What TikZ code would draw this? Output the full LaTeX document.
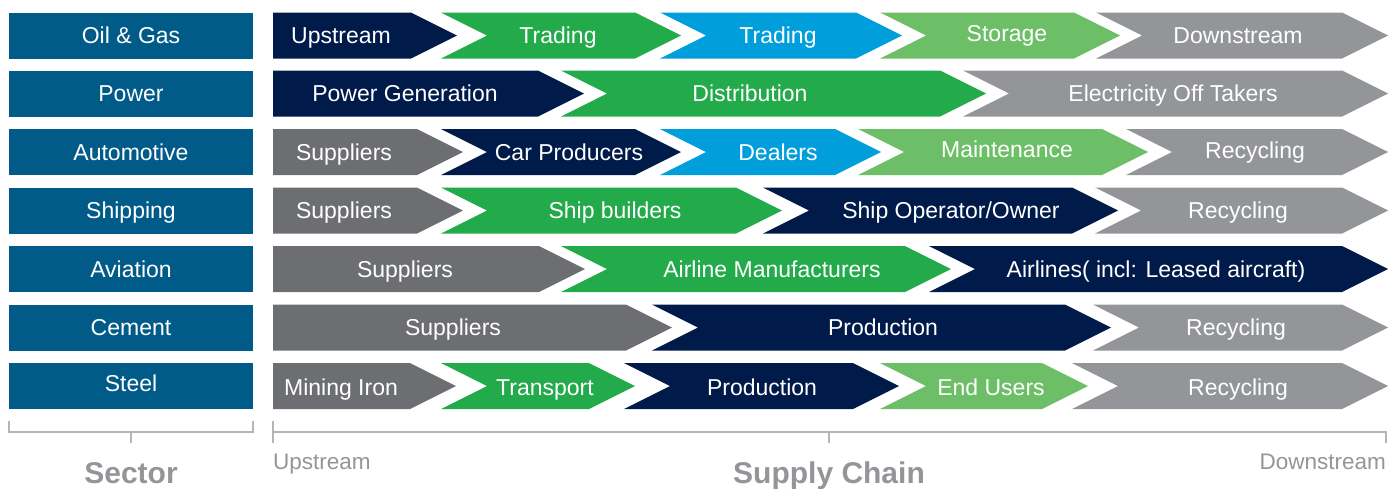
\documentclass[tikz,border=0pt]{standalone}
\usepackage{fontspec}
\setmainfont{Liberation Sans}
\definecolor{sectorc}{HTML}{005B88}
\definecolor{navyc}{HTML}{001B4A}
\definecolor{greenc}{HTML}{23AA4A}
\definecolor{bluec}{HTML}{009FDB}
\definecolor{lgreenc}{HTML}{6DBF67}
\definecolor{dgrayc}{HTML}{6D6E71}
\definecolor{lgrayc}{HTML}{939598}
\definecolor{brc}{HTML}{B5B5B5}
\definecolor{labc}{HTML}{939598}
\tikzset{
  lbl/.style={text=white,inner sep=0pt,text height=16.5pt,text depth=0pt,anchor=center,font=\fontsize{23}{23}\selectfont},
  sectorbox/.style={fill=sectorc,text=white,inner sep=0pt,minimum width=244pt,minimum height=46pt,text height=16.5pt,text depth=0pt,font=\fontsize{23}{23}\selectfont},
  brline/.style={draw=brc,line width=1.1pt},
  biglab/.style={text=labc,inner sep=0pt,anchor=base,font=\bfseries\fontsize{30}{30}\selectfont},
  smalllab/.style={text=labc,inner sep=0pt,font=\fontsize{22.5}{22.5}\selectfont}
}
% name, top, L, R, colour, text x, text, text dy
\newcommand{\chevfirst}[8]{%
  \fill[#5] (#3,#2) -- (#4,#2) -- ({#4+46},{#2+23}) -- (#4,{#2+46}) -- (#3,{#2+46}) -- cycle;
  \node[lbl] (#1) at (#6,{#2+23+#8}) {#7};}
\newcommand{\chevnext}[8]{%
  \fill[#5] (#3,#2) -- (#4,#2) -- ({#4+46},{#2+23}) -- (#4,{#2+46}) -- (#3,{#2+46}) -- ({#3+46},{#2+23}) -- cycle;
  \node[lbl] (#1) at (#6,{#2+23+#8}) {#7};}
\begin{document}
\begin{tikzpicture}[x=1pt,y=-1pt]
\useasboundingbox (0,0) rectangle (1395,488);
% sector boxes
\node[sectorbox] (s1) at (131,35.5) {Oil \& Gas};
\node[sectorbox] (s2) at (131,93.5) {Power};
\node[sectorbox] (s3) at (131,152) {Automotive};
\node[sectorbox] (s4) at (131,210.5) {Shipping};
\node[sectorbox] (s5) at (131,269) {Aviation};
\node[sectorbox] (s6) at (131,327.5) {Cement};
\node[sectorbox,text height=13.5pt,text depth=3pt] (s7) at (131,386) {Steel};
% row 1
\chevfirst{a1}{12.5}{273}{411}{navyc}{341}{Upstream}{0}
\chevnext{a2}{12.5}{441}{635}{greenc}{558}{Trading}{0}
\chevnext{a3}{12.5}{660}{856}{bluec}{778}{Trading}{0}
\chevnext{a4}{12.5}{880}{1074}{lgreenc}{1007}{Storage}{-2}
\chevnext{a5}{12.5}{1096}{1342}{lgrayc}{1238}{Downstream}{0}
% row 2
\chevfirst{b1}{70.5}{273}{538}{navyc}{405}{Power Generation}{0}
\chevnext{b2}{70.5}{561}{940}{greenc}{750}{Distribution}{0}
\chevnext{b3}{70.5}{963}{1342}{lgrayc}{1173}{Electricity Off Takers}{0}
% row 3
\chevfirst{c1}{129}{273}{417}{dgrayc}{344}{Suppliers}{0}
\chevnext{c2}{129}{441}{635}{navyc}{569}{Car Producers}{0}
\chevnext{c3}{129}{660}{835}{bluec}{778}{Dealers}{0}
\chevnext{c4}{129}{858}{1102}{lgreenc}{1007}{Maintenance}{-3}
\chevnext{c5}{129}{1126}{1342}{lgrayc}{1255}{Recycling}{-2}
% row 4
\chevfirst{d1}{187.5}{273}{417}{dgrayc}{344}{Suppliers}{0}
\chevnext{d2}{187.5}{441}{736}{greenc}{615}{Ship builders}{0}
\chevnext{d3}{187.5}{763}{1072}{navyc}{951}{Ship Operator/Owner}{0}
\chevnext{d4}{187.5}{1095}{1342}{lgrayc}{1238}{Recycling}{0}
% row 5
\chevfirst{e1}{246}{273}{539}{dgrayc}{405}{Suppliers}{0}
\chevnext{e2}{246}{561}{905}{greenc}{772}{Airline Manufacturers}{0}
\chevnext{e3}{246}{929}{1342}{navyc}{1156}{Airlines( incl: Leased aircraft)}{0}
% row 6
\chevfirst{f1}{304.5}{273}{626}{dgrayc}{453}{Suppliers}{0}
\chevnext{f2}{304.5}{652}{1065}{navyc}{883}{Production}{0}
\chevnext{f3}{304.5}{1093}{1342}{lgrayc}{1236}{Recycling}{0}
% row 7
\chevfirst{g1}{363}{273}{410}{dgrayc}{341}{Mining Iron}{1}
\chevnext{g2}{363}{441}{589}{greenc}{545}{Transport}{1}
\chevnext{g3}{363}{624}{853}{navyc}{762}{Production}{1}
\chevnext{g4}{363}{880}{1042}{lgreenc}{991}{End Users}{1}
\chevnext{g5}{363}{1072}{1342}{lgrayc}{1238}{Recycling}{1}
% brackets
\coordinate (bl1) at (9,421);
\coordinate (bl2) at (9,432);
\coordinate (bl3) at (253,432);
\coordinate (bl4) at (253,421);
\coordinate (bm1) at (131,432);
\coordinate (bm2) at (131,443);
\draw[brline] (bl1) -- (bl2) -- (bl3) -- (bl4);
\draw[brline] (bm1) -- (bm2);
\coordinate (cl1) at (273,421);
\coordinate (cl2) at (273,443);
\coordinate (cl3) at (273,432);
\coordinate (cr1) at (1386,432);
\coordinate (cr2) at (1386,443);
\coordinate (cm1) at (829,432);
\coordinate (cm2) at (829,443);
\draw[brline] (cl1) -- (cl2);
\draw[brline] (cl3) -- (cr1) -- (cr2);
\draw[brline] (cm1) -- (cm2);
% labels
\node[biglab] (sectorlab) at (131,483) {Sector};
\node[biglab] (chainlab) at (829,483) {Supply Chain};
\node[smalllab,anchor=base west] (uplab) at (273,469) {Upstream};
\node[smalllab,anchor=base east] (downlab) at (1386,469) {Downstream};
\end{tikzpicture}
\end{document}
